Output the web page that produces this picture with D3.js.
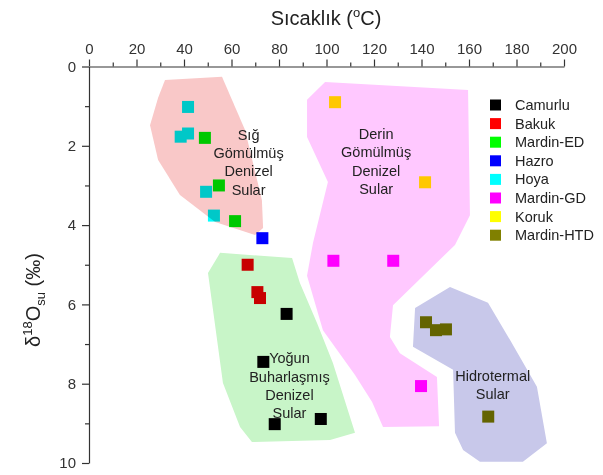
<!DOCTYPE html>
<html>
<head>
<meta charset="utf-8">
<script src="https://cdn.jsdelivr.net/npm/d3@7"></script>
<style>
  body { margin: 0; background: #fff; }
  svg { font-family: "Liberation Sans", Arial, sans-serif; }
  .region { mix-blend-mode: multiply; }
</style>
</head>
<body>
<svg id="chart" width="603" height="475"></svg>
<script>
// series
const seriesNames = ["Camurlu", "Bakuk", "Mardin-ED", "Hazro", "Hoya", "Mardin-GD", "Koruk", "Mardin-HTD"];
const seriesColors = ["#000000", "#ff0000", "#00ff00", "#0000ff", "#00ffff", "#ff00ff", "#ffff00", "#808000"];

// [temperature (C), d18O (permil, plotted downward)]
const camurlu = [[83.2, 6.24], [73.4, 7.45], [78.2, 9.02], [97.6, 8.89]];
const bakuk = [[66.8, 5.0], [70.9, 5.69], [72.0, 5.84]];
const mardinED = [[48.8, 1.8], [54.7, 3.0], [61.5, 3.9]];
const hazro = [[73.0, 4.33]];
const hoya = [[41.7, 1.02], [38.6, 1.77], [41.7, 1.69], [49.3, 3.16], [52.6, 3.76]];
const mardinGD = [[102.9, 4.9], [128.1, 4.9], [139.8, 8.06]];
const koruk = [[103.6, 0.9], [141.5, 2.92]];
const mardinHTD = [[141.9, 6.45], [146.1, 6.65], [150.3, 6.63], [168.1, 8.83]];
const seriesPoints = [camurlu, bakuk, mardinED, hazro, hoya, mardinGD, koruk, mardinHTD];

// shaded groups
const regionNames = [
  ["Sığ", "Gömülmüş", "Denizel", "Sular"],
  ["Derin", "Gömülmüş", "Denizel", "Sular"],
  ["Yoğun", "Buharlaşmış", "Denizel", "Sular"],
  ["Hidrotermal", "Sular"]
];
const regionColors = ["#f9c8c8", "#ffc8ff", "#c8f5c8", "#c8c8ea"];
const regionShallow = [[32.0, 0.34], [56.0, 0.26], [65.7, 1.6], [72.8, 3.37], [73.3, 4.07], [69.9, 4.25],
  [53.1, 3.92], [38.3, 3.24], [29.1, 2.36], [25.7, 1.48], [29.1, 0.79]];
const regionDeep = [[99.4, 0.39], [159.6, 0.59], [160.4, 3.75], [154.1, 4.5], [128.0, 6.02], [126.7, 6.82],
  [130.9, 7.23], [146.5, 7.83], [147.4, 9.07], [123.8, 9.09], [119.2, 8.46], [112.0, 7.78], [98.5, 6.65],
  [91.8, 5.28], [94.3, 4.45], [100.6, 2.91], [91.8, 1.78], [91.8, 0.84]];
const regionEvap = [[55.2, 4.7], [85.5, 4.83], [88.8, 5.46], [96.0, 6.47], [102.7, 7.48], [112.0, 9.24],
  [101.5, 9.42], [68.6, 9.47], [63.6, 9.09], [56.4, 7.98], [50.1, 5.21]];
const regionHydro = [[137.3, 6.09], [152.0, 5.56], [168.0, 5.96], [177.3, 6.9], [188.6, 8.08], [192.8, 9.5],
  [182.7, 9.97], [164.6, 9.97], [157.5, 9.67], [154.1, 9.24], [153.3, 7.65], [136.4, 7.07]];
const regionShapes = [regionShallow, regionDeep, regionEvap, regionHydro];
// label anchor (centre of first line) in data units
const regionLabelAt = [[67.2, 1.72], [120.9, 1.7], [84.4, 7.36], [170.0, 7.8]];

const xTicks = d3.range(0, 201, 20);
const yTicks = d3.range(0, 11, 2);

const svg = d3.select("#chart");
const x = d3.scaleLinear().domain([0, 200]).range([89, 564]);
const y = d3.scaleLinear().domain([0, 10]).range([66.5, 463]);

// markers first, regions are multiplied on top of them
const markSize = 12;
seriesPoints.forEach((pts, i) => {
  svg.append("g").selectAll("rect").data(pts).join("rect")
    .attr("x", d => x(d[0]) - markSize / 2)
    .attr("y", d => y(d[1]) - markSize / 2)
    .attr("width", markSize).attr("height", markSize)
    .attr("fill", seriesColors[i]);
});

const poly = d3.line().x(d => x(d[0])).y(d => y(d[1])).curve(d3.curveLinearClosed);
svg.append("g").selectAll("path").data(regionShapes).join("path")
  .attr("class", "region")
  .attr("d", poly)
  .attr("fill", (d, i) => regionColors[i]);

// region labels
regionNames.forEach((lines, i) => {
  const t = svg.append("text")
    .attr("text-anchor", "middle")
    .attr("font-size", 14.5)
    .attr("fill", "#222");
  lines.forEach((s, j) => {
    t.append("tspan")
      .attr("x", x(regionLabelAt[i][0]))
      .attr("y", y(regionLabelAt[i][1]) + 5 + j * 18.3)
      .text(s);
  });
});

// axes
const axisColor = "#333";
svg.append("g").attr("transform", `translate(0,${y(0)})`)
  .call(d3.axisTop(x).tickValues(xTicks).tickSize(7).tickPadding(6).tickSizeOuter(0));
svg.append("g").attr("transform", `translate(0,${y(0)})`)
  .call(d3.axisTop(x).tickValues(d3.range(10, 200, 20)).tickSize(4).tickFormat("").tickSizeOuter(0))
  .select(".domain").remove();
svg.append("g").attr("transform", `translate(${x(0)},0)`)
  .call(d3.axisLeft(y).tickValues(yTicks).tickSize(7).tickPadding(6).tickSizeOuter(0));
svg.append("g").attr("transform", `translate(${x(0)},0)`)
  .call(d3.axisLeft(y).tickValues(d3.range(1, 10, 2)).tickSize(4).tickFormat("").tickSizeOuter(0))
  .select(".domain").remove();
svg.selectAll(".domain, .tick line").attr("stroke", axisColor).attr("stroke-width", 1.2);
svg.selectAll(".tick text").attr("font-size", 15).attr("fill", "#333")
  .attr("font-family", "Liberation Sans, Arial, sans-serif");

// axis titles
const xt = svg.append("text").attr("x", 326).attr("y", 25)
  .attr("text-anchor", "middle").attr("font-size", 20).attr("fill", "#222");
xt.append("tspan").text("Sıcaklık (");
xt.append("tspan").attr("font-size", 13).attr("dy", -8).text("o");
xt.append("tspan").attr("dy", 8).text("C)");

const yt = svg.append("text").attr("transform", "translate(40,300) rotate(-90)")
  .attr("text-anchor", "middle").attr("font-size", 20).attr("fill", "#222");
yt.append("tspan").text("δ");
yt.append("tspan").attr("font-size", 13).attr("dy", -8).text("18");
yt.append("tspan").attr("dy", 8).text("O");
yt.append("tspan").attr("font-size", 13).attr("dy", 5).text("su");
yt.append("tspan").attr("dy", -5).text(" (‰)");

// legend
const legend = svg.append("g").attr("transform", "translate(490,105)");
const row = legend.selectAll("g").data(seriesNames).join("g")
  .attr("transform", (d, i) => `translate(0,${i * 18.6})`);
row.append("rect").attr("x", 0).attr("y", -5.5).attr("width", 11).attr("height", 11)
  .attr("fill", (d, i) => seriesColors[i]);
row.append("text").attr("x", 25).attr("y", 5).attr("font-size", 14.5).attr("fill", "#222")
  .text(d => d);
</script>
</body>
</html>
